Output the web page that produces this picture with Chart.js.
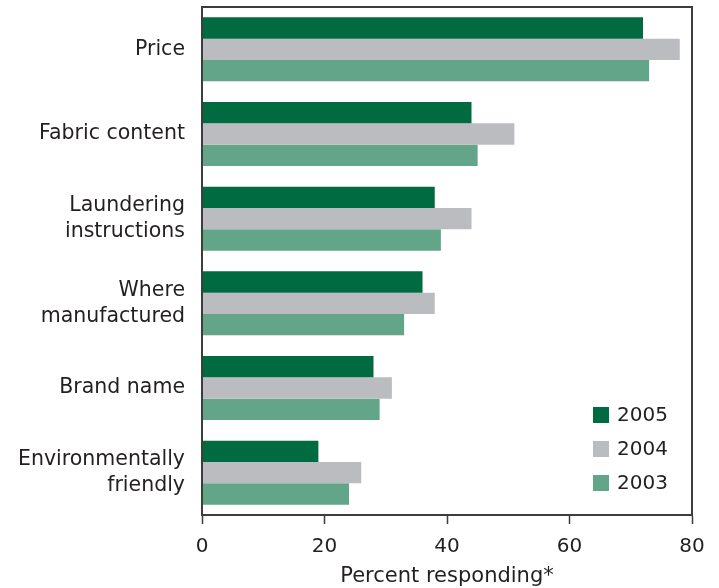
<!DOCTYPE html>
<html>
<head>
<meta charset="utf-8">
<script src="https://cdn.jsdelivr.net/npm/chart.js@4.4.1/dist/chart.umd.min.js"></script>
<style>
  html, body { margin: 0; padding: 0; background: #ffffff; }
  #wrap { width: 719px; height: 588px; }
</style>
</head>
<body>
<div id="wrap"><canvas id="c" width="719" height="588"></canvas></div>
<script>
const categories = ["Price", "Fabric content", ["Laundering", "instructions"], ["Where", "manufactured"], "Brand name", ["Environmentally", "friendly"]];
const seriesNames = ["2005", "2004", "2003"];
const values2005 = [72, 44, 38, 36, 28, 19];
const values2004 = [78, 51, 44, 38, 31, 26];
const values2003 = [73, 45, 39, 33, 29, 24];
const xTicks = [0, 20, 40, 60, 80];
const axisTitle = "Percent responding*";

const colors = ["#006a40", "#bbbcbf", "#63a589"];
const textColor = "#231f20";
const frameColor = "#3d3d3d";
const FONT = "'DejaVu Sans', Verdana, sans-serif";

const framePlugin = {
  id: 'frame',
  afterDatasetsDraw(chart) {
    const {ctx, chartArea: a} = chart;
    ctx.save();
    ctx.strokeStyle = frameColor;
    ctx.lineWidth = 2;
    ctx.strokeRect(a.left, a.top, a.right - a.left, a.bottom - a.top);
    ctx.restore();
  }
};

const legendPlugin = {
  id: 'insideLegend',
  afterDraw(chart) {
    const {ctx} = chart;
    ctx.save();
    ctx.font = "20px " + FONT;
    ctx.textBaseline = 'middle';
    ctx.textAlign = 'left';
    chart.data.datasets.forEach((ds, i) => {
      const y = 407 + i * 34;
      ctx.fillStyle = ds.backgroundColor;
      ctx.fillRect(593, y, 16, 16);
      ctx.fillStyle = textColor;
      ctx.fillText(ds.label, 617, y + 8.5);
    });
    ctx.restore();
  }
};

const valueSets = [values2005, values2004, values2003];

new Chart(document.getElementById('c'), {
  type: 'bar',
  data: {
    labels: categories,
    datasets: seriesNames.map((name, i) => ({
      label: name,
      data: valueSets[i],
      backgroundColor: colors[i],
      borderWidth: 0,
      barPercentage: 1.0,
      categoryPercentage: 0.756
    }))
  },
  options: {
    indexAxis: 'y',
    responsive: false,
    animation: false,
    layout: { padding: { left: 0, right: 27, top: 7, bottom: 0 } },
    plugins: {
      legend: { display: false },
      tooltip: { enabled: false }
    },
    scales: {
      x: {
        type: 'linear',
        min: 0,
        max: 80,
        afterFit(scale) { scale.height = 73; scale.paddingLeft = 0; scale.paddingRight = 0; },
        afterBuildTicks(scale) { scale.ticks = xTicks.map(v => ({ value: v })); },
        grid: { drawOnChartArea: false, drawTicks: true, tickLength: 9, tickColor: frameColor, tickWidth: 1.5 },
        border: { display: true, color: frameColor, width: 2 },
        ticks: { color: textColor, font: { family: FONT, size: 20 }, padding: 11, maxRotation: 0 },
        title: { display: true, text: axisTitle, color: textColor, font: { family: FONT, size: 21 }, padding: { top: 0, bottom: -1 } }
      },
      y: {
        type: 'category',
        afterFit(scale) { scale.width = 202; scale.paddingTop = 0; scale.paddingBottom = 0; },
        grid: { display: true, drawOnChartArea: false, drawTicks: false },
        border: { display: true, color: frameColor, width: 2 },
        ticks: { color: textColor, font: { family: FONT, size: 20.5, lineHeight: 1.27 }, padding: 17 }
      }
    }
  },
  plugins: [framePlugin, legendPlugin]
});
</script>
</body>
</html>
